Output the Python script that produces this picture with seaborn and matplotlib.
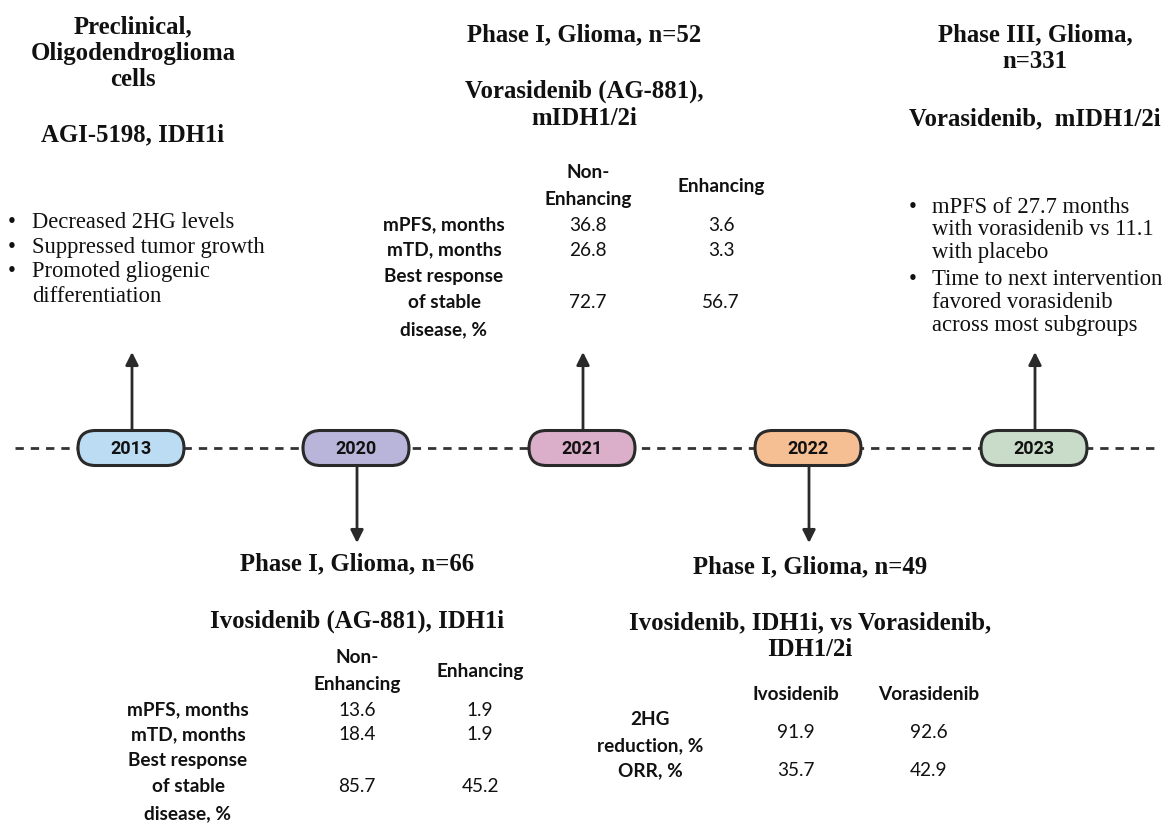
import matplotlib.pyplot as plt
import seaborn as sns
import pandas as pd
from matplotlib.patches import FancyBboxPatch

# timeline
years = ["2013", "2020", "2021", "2022", "2023"]
pill_colors = ["#BBDCF3", "#B9B4D9", "#DBAEC9", "#F6BF93", "#C9DCC9"]
arrow_dir = ["up", "down", "up", "down", "up"]

# 2013 - preclinical
pre_title = "Preclinical,\nOligodendroglioma\ncells"
pre_drug = "AGI-5198, IDH1i"
pre_bullets = ["Decreased 2HG levels", "Suppressed tumor growth",
               "Promoted gliogenic\ndifferentiation"]

# 2020 - ivosidenib phase I
ivo_title = "Phase I, Glioma, n=66"
ivo_drug = "Ivosidenib (AG-881), IDH1i"
enh_cols = ["Non-\nEnhancing", "Enhancing"]
enh_rows = ["mPFS, months", "mTD, months", "Best response\nof stable\ndisease, %"]
ivo_nonenh = ["13.6", "18.4", "85.7"]
ivo_enh = ["1.9", "1.9", "45.2"]

# 2021 - vorasidenib phase I
vor_title = "Phase I, Glioma, n=52"
vor_drug = "Vorasidenib (AG-881),\nmIDH1/2i"
vor_nonenh = ["36.8", "26.8", "72.7"]
vor_enh = ["3.6", "3.3", "56.7"]

# 2022 - perioperative comparison
cmp_title = "Phase I, Glioma, n=49"
cmp_drug = "Ivosidenib, IDH1i, vs Vorasidenib,\nIDH1/2i"
cmp_cols = ["Ivosidenib", "Vorasidenib"]
cmp_rows = ["2HG\nreduction, %", "ORR, %"]
cmp_ivo = ["91.9", "35.7"]
cmp_vor = ["92.6", "42.9"]

# 2023 - phase III
ph3_title = "Phase III, Glioma,\nn=331"
ph3_drug = "Vorasidenib,  mIDH1/2i"
ph3_bullets = ["mPFS of 27.7 months\nwith vorasidenib vs 11.1\nwith placebo",
               "Time to next intervention\nfavored vorasidenib\nacross most subgroups"]

sns.set_theme(style="white")
SERIF = ["Liberation Serif", "DejaVu Serif"]
SANS = ["Lato", "DejaVu Sans"]
INK = "#111111"

fig = plt.figure(figsize=(11.66, 8.24), dpi=100)
ax = fig.add_axes([0, 0, 1, 1])
ax.set_xlim(0, 1166)
ax.set_ylim(824, 0)
ax.axis("off")

tl = pd.DataFrame({"year": years, "color": pill_colors, "dir": arrow_dir})
tl["x"] = [131, 356, 582, 808, 1034]
Y0 = 448

# dashed baseline
sns.lineplot(x=[15, 1155], y=[Y0, Y0], ax=ax, color="#333333", lw=2,
             linestyle=(0, (3, 2.5)), zorder=1)

for _, r in tl.iterrows():
    pill = FancyBboxPatch((r.x - 53, Y0 - 17.5), 106, 35,
                          boxstyle="round,pad=0,rounding_size=17.5",
                          fc=r.color, ec="#2a2a2a", lw=2.2, zorder=3)
    ax.add_patch(pill)
    ax.text(r.x, Y0 + 1, r.year, ha="center", va="center", fontsize=13,
            family="Roboto", weight="bold", color=INK, zorder=4)
    if r.dir == "up":
        start, end = Y0 - 18, 352
    else:
        start, end = Y0 + 19, 543
    ax.annotate("", xy=(r.x + 1, end), xytext=(r.x + 1, start),
                arrowprops=dict(arrowstyle="-|>", lw=2, color="#2a2a2a",
                                mutation_scale=19, shrinkA=0, shrinkB=0))


def lines(x, y, s, pitch, **kw):
    parts = s.split("\n")
    n = len(parts)
    for k, p in enumerate(parts):
        ax.text(x, y + (k - (n - 1) / 2) * pitch, p, va="center", color=INK, **kw)


def heading(x, y, s, pitch=27):
    lines(x, y, s, pitch, ha="center", family=SERIF, weight="bold", fontsize=17.8)


def bullets(xb, xt, ys, items, pitch, size, gap):
    y = ys
    for it in items:
        ax.text(xb, y, "\u2022", ha="center", va="center", family=SERIF,
                fontsize=size, color=INK)
        for p in it.split("\n"):
            ax.text(xt, y, p, ha="left", va="center", family=SERIF,
                    fontsize=size, color=INK)
            y += pitch
        y += gap


def table(xl, xc, y_head, y_rows, cols, rows, vals, size=13.7):
    for x, c in zip(xc, cols):
        lines(x, y_head, c, 26.5, ha="center", family=SANS, weight="bold", fontsize=size)
    for y, lab, rv in zip(y_rows, rows, zip(*vals)):
        lines(xl, y, lab, 26.5, ha="center", family=SANS, weight="bold", fontsize=size)
        for x, v in zip(xc, rv):
            ax.text(x, y, v, ha="center", va="center", family=SANS,
                    fontsize=size, color=INK)


# 2013
heading(133, 53, pre_title, 26.5)
heading(133, 135, pre_drug)
bullets(12, 32, 222, pre_bullets, 24.5, 16.3, 0.5)

# 2021
heading(584, 35, vor_title)
heading(584, 105, vor_drug)
table(444, [588, 721], 186, [225, 250, 303], enh_cols, enh_rows, [vor_nonenh, vor_enh])

# 2023
heading(1035, 48, ph3_title)
heading(1035, 119, ph3_drug)
bullets(913, 932, 207, ph3_bullets, 22.8, 16.3, 4)

# 2020
heading(357, 564, ivo_title)
heading(357, 621, ivo_drug)
table(188, [357, 480], 671, [710, 735, 787], enh_cols, enh_rows, [ivo_nonenh, ivo_enh])

# 2022
heading(810, 567, cmp_title)
heading(810, 636, cmp_drug)
table(650, [796, 929], 695, [733, 771], cmp_cols, cmp_rows, [cmp_ivo, cmp_vor])

fig.savefig("out.png", dpi=100, facecolor="white")
